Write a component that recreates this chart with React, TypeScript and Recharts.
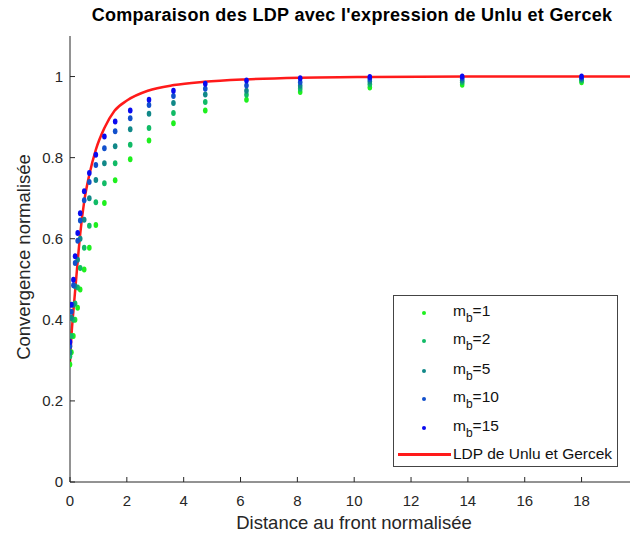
import React from 'react';
import { ComposedChart, Scatter, Line, XAxis, YAxis, Legend } from 'recharts';

// Normalised distance to the face (x positions of the measured points)
const distances = [0, 0.05, 0.12, 0.18, 0.27, 0.36, 0.5, 0.68, 0.91, 1.21, 1.59, 2.12, 2.78, 3.64, 4.76, 6.21, 8.1, 10.55, 13.8, 18.0];

// Normalised convergence for each m_b
const mb1 = [0.29, 0.32, 0.36, 0.40, 0.43, 0.475, 0.524, 0.578, 0.634, 0.688, 0.744, 0.796, 0.842, 0.885, 0.916, 0.943, 0.962, 0.973, 0.98, 0.986];
const mb2 = [0.31, 0.36, 0.40, 0.44, 0.48, 0.528, 0.578, 0.632, 0.69, 0.737, 0.786, 0.832, 0.873, 0.91, 0.937, 0.955, 0.97, 0.981, 0.986, 0.99];
const mb5 = [0.32, 0.405, 0.437, 0.483, 0.548, 0.60, 0.647, 0.70, 0.745, 0.786, 0.828, 0.87, 0.908, 0.935, 0.956, 0.965, 0.977, 0.988, 0.99, 0.994];
const mb10 = [0.335, 0.42, 0.485, 0.54, 0.595, 0.645, 0.695, 0.74, 0.782, 0.823, 0.865, 0.897, 0.93, 0.952, 0.97, 0.978, 0.986, 0.994, 0.996, 0.997];
const mb15 = [0.345, 0.437, 0.499, 0.557, 0.614, 0.663, 0.717, 0.762, 0.807, 0.852, 0.889, 0.916, 0.943, 0.965, 0.982, 0.99, 0.996, 0.999, 1.0, 1.0];

// Unlu & Gercek LDP curve
const curveX = [0, 0.05, 0.13, 0.25, 0.36, 0.5, 0.68, 0.91, 1.21, 1.56, 2.03, 2.74, 3.66, 4.72, 6.2, 8.1, 10.6, 14, 20];
const curveY = [0.295, 0.36, 0.43, 0.528, 0.612, 0.692, 0.758, 0.82, 0.873, 0.915, 0.942, 0.965, 0.979, 0.987, 0.993, 0.997, 0.999, 1.0, 1.0];

const xTicks = [0, 2, 4, 6, 8, 10, 12, 14, 16, 18, 20];
const yTicks = [0, 0.2, 0.4, 0.6, 0.8, 1];

const title = "Comparaison des LDP avec l'expression de Unlu et Gercek";
const xLabel = 'Distance au front normalisée';
const yLabel = 'Convergence normalisée';
const curveName = 'LDP de Unlu et Gercek';

const seriesDefs = [
  { mb: '1', values: mb1, color: '#1ef01e' },
  { mb: '2', values: mb2, color: '#11bb66' },
  { mb: '5', values: mb5, color: '#118888' },
  { mb: '10', values: mb10, color: '#1150cc' },
  { mb: '15', values: mb15, color: '#0a0af0' },
];

const FONT = '"Liberation Sans", Arial, Helvetica, sans-serif';
const AXIS_COLOR = '#262626';

const toPoints = (vals: number[]) => distances.map((x, i) => ({ x, y: vals[i] }));
const curveData = curveX.map((x, i) => ({ x, y: curveY[i] }));

const dotShape = (color: string) => (props: any) => (
  <ellipse cx={props.cx} cy={props.cy} rx={2.3} ry={3} fill={color} />
);

const LegendBox = () => {
  const rowY = [17, 45, 75, 103, 132];
  return (
    <div
      style={{
        position: 'relative',
        width: 225,
        height: 172,
        border: '1px solid #444',
        background: '#fff',
        boxSizing: 'border-box',
        fontFamily: FONT,
        fontSize: 15.5,
        color: '#111',
      }}
    >
      {seriesDefs.map((s, i) => (
        <React.Fragment key={s.mb}>
          <div
            style={{
              position: 'absolute',
              left: 28,
              top: rowY[i] - 2,
              width: 4,
              height: 4,
              borderRadius: 2,
              background: s.color,
            }}
          />
          <div style={{ position: 'absolute', left: 59, top: rowY[i] - 11, lineHeight: '18px', whiteSpace: 'nowrap' }}>
            m<sub style={{ fontSize: 12, verticalAlign: '-6px' }}>b</sub>={s.mb}
          </div>
        </React.Fragment>
      ))}
      <div style={{ position: 'absolute', left: 4, top: 157, width: 53, height: 2.5, background: '#ff1a1a' }} />
      <div style={{ position: 'absolute', left: 59, top: 149, lineHeight: '18px', whiteSpace: 'nowrap' }}>{curveName}</div>
    </div>
  );
};

export default function App() {
  return (
    <div
      style={{
        position: 'absolute',
        left: 0,
        top: 0,
        width: 630,
        height: 537,
        overflow: 'hidden',
        background: '#fff',
      }}
    >
      <ComposedChart
        width={680}
        height={537}
        margin={{ top: 36, right: 41.6, bottom: 25, left: 30 }}
      >
        <XAxis
          type="number"
          dataKey="x"
          domain={[0, 20]}
          ticks={xTicks}
          allowDataOverflow
          height={30}
          stroke={AXIS_COLOR}
          tickSize={-5}
          tickMargin={18}
          tick={{ fill: AXIS_COLOR, fontSize: 15, fontFamily: FONT }}
        />
        <YAxis
          type="number"
          dataKey="y"
          domain={[0, 1.1]}
          ticks={yTicks}
          allowDataOverflow
          width={40}
          stroke={AXIS_COLOR}
          tickSize={-5}
          tickMargin={12}
          tick={{ fill: AXIS_COLOR, fontSize: 15, fontFamily: FONT }}
        />
        {seriesDefs.map((s) => (
          <Scatter
            key={s.mb}
            name={`mb=${s.mb}`}
            data={toPoints(s.values)}
            fill={s.color}
            shape={dotShape(s.color)}
            isAnimationActive={false}
          />
        ))}
        <Line
          data={curveData}
          dataKey="y"
          type="monotone"
          stroke="#ff1a1a"
          strokeWidth={2.5}
          dot={false}
          activeDot={false}
          isAnimationActive={false}
        />
        <Legend
          layout="vertical"
          align="center"
          verticalAlign="middle"
          content={() => <LegendBox />}
          wrapperStyle={{ left: 393, top: 295, width: 225, height: 172 }}
        />
      </ComposedChart>
      <div
        style={{
          position: 'absolute',
          left: 352 - 300,
          width: 600,
          top: 5,
          textAlign: 'center',
          fontFamily: FONT,
          fontWeight: 'bold',
          fontSize: 18,
          letterSpacing: 0.3,
          color: '#000',
          whiteSpace: 'nowrap',
        }}
      >
        {title}
      </div>
      <div
        style={{
          position: 'absolute',
          left: 354 - 200,
          width: 400,
          top: 512,
          textAlign: 'center',
          fontFamily: FONT,
          fontSize: 18.5,
          color: '#262626',
          whiteSpace: 'nowrap',
        }}
      >
        {xLabel}
      </div>
      <div
        style={{
          position: 'absolute',
          left: 24 - 150,
          top: 257 - 11,
          width: 300,
          height: 22,
          lineHeight: '22px',
          textAlign: 'center',
          transform: 'rotate(-90deg)',
          fontFamily: FONT,
          fontSize: 18.5,
          color: '#262626',
          whiteSpace: 'nowrap',
        }}
      >
        {yLabel}
      </div>
    </div>
  );
}
